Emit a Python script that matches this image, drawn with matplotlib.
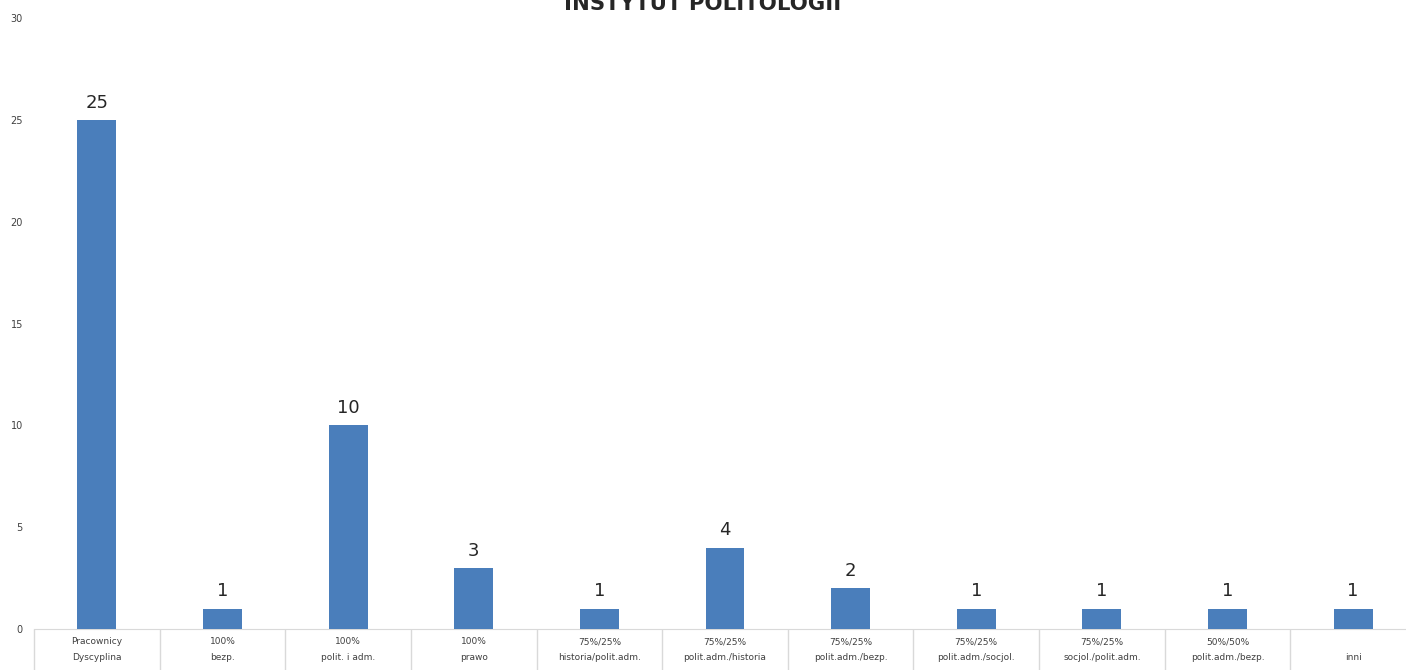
import matplotlib.pyplot as plt
import numpy as np

# Data
shares = ['Pracownicy', '100%', '100%', '100%', '75%/25%', '75%/25%', '75%/25%',
          '75%/25%', '75%/25%', '50%/50%', '']
disciplines = ['Dyscyplina', 'bezp.', 'polit. i adm.', 'prawo', 'historia/polit.adm.',
               'polit.adm./historia', 'polit.adm./bezp.', 'polit.adm./socjol.',
               'socjol./polit.adm.', 'polit.adm./bezp.', 'inni']
counts = [25, 1, 10, 3, 1, 4, 2, 1, 1, 1, 1]

BAR_COLOR = '#4a7ebb'
TEXT_COLOR = '#404040'
LINE_COLOR = '#d9d9d9'

fig = plt.figure(figsize=(14.06, 6.70), dpi=100)
fig.patch.set_facecolor('white')
# the category table runs a little past the right edge, as in the reference
ax = fig.add_axes([34 / 1406, 41 / 670, 1382 / 1406, 611 / 670])

x = np.arange(len(counts))
bars = ax.bar(x, counts, width=0.31, color=BAR_COLOR, zorder=3)

for b, v in zip(bars, counts):
    ax.text(b.get_x() + b.get_width() / 2, v + 0.4, str(v), ha='center', va='bottom',
            fontsize=13, color='#262626')

ax.set_xlim(-0.5, len(counts) - 0.5)
ax.set_ylim(0, 30)
ax.set_yticks(range(0, 31, 5))

labels = [f'{s}\n{d}' for s, d in zip(shares, disciplines)]
ax.set_xticks(x)
ax.set_xticklabels(labels, fontsize=6.5, color=TEXT_COLOR, linespacing=2.0)
ax.set_xticks(np.arange(-0.5, len(counts) + 0.5, 1), minor=True)
ax.tick_params(axis='x', which='major', length=0, pad=6)
ax.tick_params(axis='x', which='minor', length=30, color=LINE_COLOR, width=1)
ax.tick_params(axis='y', length=0, labelsize=7, labelcolor=TEXT_COLOR, pad=8)

for side in ['top', 'right', 'left']:
    ax.spines[side].set_visible(False)
ax.spines['bottom'].set_color(LINE_COLOR)

fig.text(0.5, 0.994, 'INSTYTUT POLITOLOGII', ha='center', va='center',
         fontsize=15.3, fontweight='bold', color='#262626')

plt.savefig('out.png', dpi=100, facecolor='white')
plt.close()
